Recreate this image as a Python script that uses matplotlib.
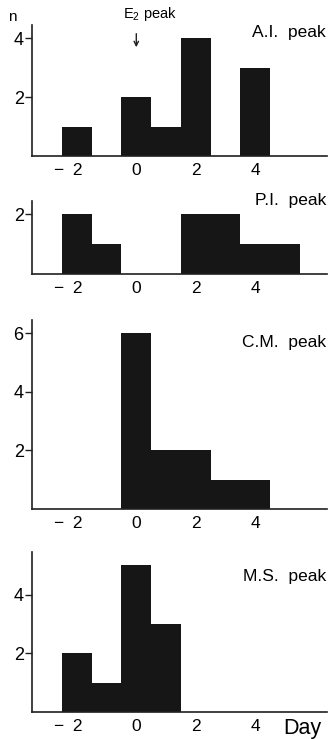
import numpy as np
import matplotlib
matplotlib.use("Agg")
import matplotlib.pyplot as plt
from matplotlib.transforms import ScaledTranslation

plt.rcParams['font.family'] = ['Liberation Sans', 'DejaVu Sans']
plt.rcParams['mathtext.fontset'] = 'custom'
plt.rcParams['mathtext.rm'] = 'Liberation Sans'

# days relative to the E2 peak, one bin per day
days = [-2, -1, 0, 1, 2, 3, 4, 5]
ai_counts = [1, 0, 2, 1, 4, 0, 3, 0]
pi_counts = [2, 1, 0, 0, 2, 2, 1, 1]
cm_counts = [0, 0, 6, 2, 2, 1, 1, 0]
ms_counts = [2, 1, 5, 3, 0, 0, 0, 0]

panel_labels = ["A.I.  peak", "P.I.  peak", "C.M.  peak", "M.S.  peak"]
x_ticks = [-2, 0, 2, 4]
x_ticklabels = ["\u2212\u20022", "0", "2", "4"]
y_ticks = [[2, 4], [2], [2, 4, 6], [2, 4]]

W, H = 328, 739
fig = plt.figure(figsize=(W / 100, H / 100), dpi=100)

def fx(px):
    return px / W

def fy(py):
    return 1 - py / H

# (top pixel, baseline pixel, ymax, label y pixel)
panels = [
    (25, 156, 4.45, 32),
    (200.7, 274, 2.46, 201),
    (320, 509, 6.45, 343),
    (551.7, 712, 5.47, 577),
]
all_counts = [ai_counts, pi_counts, cm_counts, ms_counts]

axes = []
for (top, base, ymax, ly), counts, lab, yt in zip(panels, all_counts, panel_labels, y_ticks):
    ax = fig.add_axes([fx(32), fy(base), fx(328 - 32) - 0.002, (base - top) / H])
    ax.bar(days, counts, width=1.0, color='#161616', linewidth=0, align='center')
    ax.set_xlim(-3.51, 6.43)
    ax.set_ylim(0, ymax)
    for s in ['top', 'right']:
        ax.spines[s].set_visible(False)
    for s in ['left', 'bottom']:
        ax.spines[s].set_linewidth(1.2)
        ax.spines[s].set_color('#202020')
    ax.set_yticks(yt)
    ax.set_yticklabels([str(v) for v in yt], fontsize=13)
    ax.tick_params(axis='y', direction='out', length=5, width=1.0, pad=1, color='#202020')
    ax.set_xticks(x_ticks)
    ax.set_xticklabels(x_ticklabels, fontsize=12.5)
    ax.tick_params(axis='x', length=0, pad=5)
    # keep the digit of "−2" under its tick, minus hanging to the left
    lbl = ax.get_xticklabels()[0]
    lbl.set_transform(lbl.get_transform() + ScaledTranslation(-0.09, 0, fig.dpi_scale_trans))
    fig.text(fx(326), fy(ly), lab, ha='right', va='center', fontsize=12.5)
    axes.append(ax)

# axis caption and E2 marker
fig.text(fx(8), fy(17), "n", ha='left', va='center', fontsize=11)
fig.text(fx(150), fy(14), "E$_\\mathregular{2}$ peak", ha='center', va='center', fontsize=10.5)
axes[0].annotate("", xy=(0, 3.6), xytext=(0, 4.25),
                 arrowprops=dict(arrowstyle='->', lw=1.0, color='#202020',
                                 mutation_scale=8))
fig.text(fx(283), fy(734), "Day", ha='left', va='baseline', fontsize=15.5)

fig.savefig("out.png", dpi=100)
